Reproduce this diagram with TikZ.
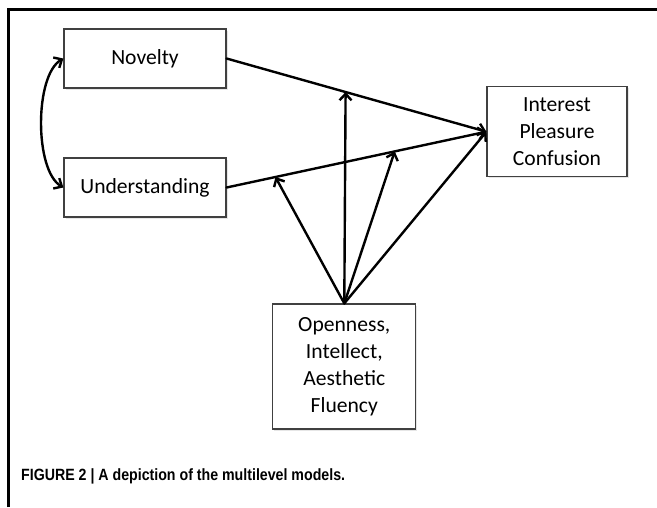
\documentclass[tikz,border=0pt]{standalone}
\usepackage{fontspec}
\setmainfont{Carlito}
\newfontfamily\capfont{Liberation Sans}
\usetikzlibrary{arrows.meta,shadows,calc}
\tikzset{%
  >={Straight Barb[width=12pt,length=6.5pt]},
  % Specifications for style of nodes:
     varbox/.style = {rectangle, draw=black!75, line width=1.2pt, fill=white,
                      minimum width=162pt, minimum height=59pt,
                      align=center, font=\fontsize{21.6}{27}\selectfont,
                      drop shadow={opacity=0.2, shadow xshift=1.5pt, shadow yshift=-1.5pt}},
  outcomebox/.style = {varbox, minimum width=140pt, minimum height=90pt},
    traitbox/.style = {varbox, minimum width=143pt, minimum height=125pt},
        link/.style = {line width=2.4pt, line cap=round},
     caption/.style = {anchor=base west, inner sep=0pt, text=black,
                       font=\capfont\bfseries\fontsize{16.3}{18}\selectfont}
}
\begin{document}
\begin{tikzpicture}[x=1pt, y=-1pt]
  \useasboundingbox (0,0) rectangle (657,507);
  \draw[line width=3pt] (8,507) -- (8,9) -- (657,9);

  \node (novelty) [varbox]     at (145,58.5)  {Novelty};
  \node (underst) [varbox]     at (145,187.5) {Understanding};
  \node (outcome) [outcomebox] at (557,131.7) {Interest\\Pleasure\\Confusion};
  \node (traits)  [traitbox]   at (344.3,366.5) {Openness,\\Intellect,\\Aesthetic\\Fluency};
  \node (cap)     [caption]    at (21,480) {\scalebox{0.87}[1]{FIGURE 2 | A depiction of the multilevel models.}};

  % moderation points on the two paths
  \coordinate (modnov) at ($(novelty.east)!0.458!(outcome.west)$);
  \coordinate (modun1) at ($(underst.east)!0.188!(outcome.west)$);
  \coordinate (modun2) at ($(underst.east)!0.647!(outcome.west)$);

    \draw[link,->]  (novelty.east) -- (outcome.west);
    \draw[link,->]  (underst.east) -- (outcome.west);
    \draw[link,<->] (novelty.west) .. controls +(-29,17) and +(-29,-17) .. (underst.west);
    \draw[link,->]  (traits.north) -- (modnov);
    \draw[link,->]  (traits.north) -- (modun1);
    \draw[link,->]  (traits.north) -- (modun2);
    \draw[link,->]  (traits.north) -- (outcome.west);
\end{tikzpicture}
\end{document}
